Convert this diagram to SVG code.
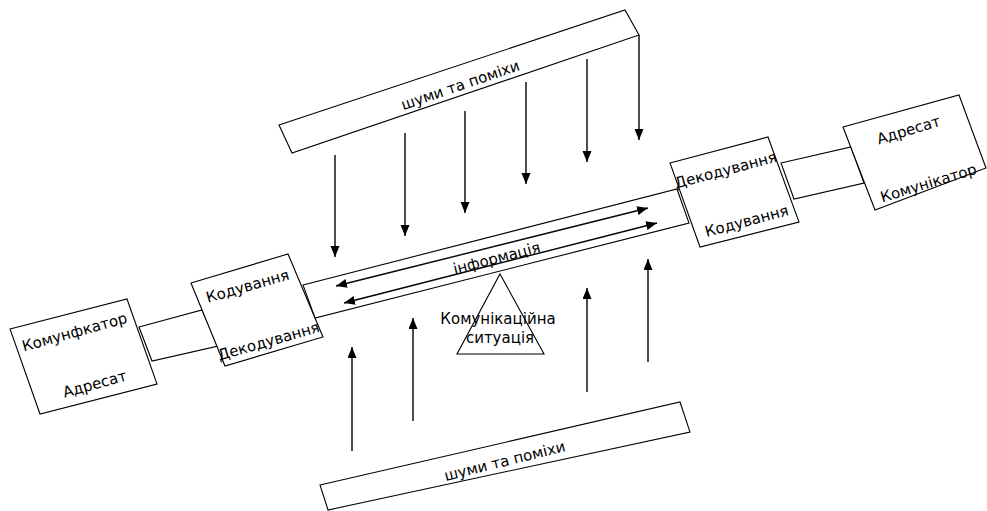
<svg xmlns="http://www.w3.org/2000/svg" width="987" height="511" viewBox="0 0 987 511">
<defs>
<marker id="ah" markerUnits="userSpaceOnUse" markerWidth="12" markerHeight="10" refX="11" refY="4.5" orient="auto-start-reverse">
<path d="M0,0 L11,4.5 L0,9 z" fill="#000"/>
</marker>
<style>
.box{fill:#fff;stroke:#000;stroke-width:1.1}
.ln{fill:none;stroke:#000;stroke-width:1.1}
.ar{fill:none;stroke:#000;stroke-width:1.4;marker-end:url(#ah)}
.dar{fill:none;stroke:#000;stroke-width:1.4;marker-start:url(#ah);marker-end:url(#ah)}
text{font-family:"DejaVu Sans","Noto Sans",sans-serif;font-size:15px;fill:#000;text-anchor:middle}
</style>
</defs>
<rect width="987" height="511" fill="#fff"/>
<g id="connectors">
<polygon class="box" points="139,327 202,310 218,346 152,361"/>
<polygon class="box" points="781,163 851,147 864,183 794,199"/>
</g>
<g id="noise-top">
<polygon class="box" points="279,125 625,10 639,35 292,153"/>
<text transform="rotate(-19 462 90)" x="462" y="90">шуми та поміхи</text>
</g>
<g id="noise-bottom">
<polygon class="box" points="320,485 680,402 690,432 328,510"/>
<text transform="rotate(-14 506 466)" x="506" y="466">шуми та поміхи</text>
</g>
<g id="channel">
<polygon class="box" points="303,285 677,189 689,223 315,318"/>
<text transform="rotate(-14.5 498 263)" x="498" y="263">інформація</text>
</g>
<g id="situation">
<polygon class="box" points="500,274 544,354 457,354" fill="none"/>
<text x="498" y="324">Комунікаційна</text>
<text x="500" y="343">ситуація</text>
</g>
<g id="communicator">
<polygon class="box" points="10,329 127,299 157,384 40,414"/>
<text transform="rotate(-15.5 76 337)" x="76" y="337">Комунфкатор</text>
<text transform="rotate(-15.5 96 389)" x="96" y="389">Адресат</text>
</g>
<g id="coding-left">
<polygon class="box" points="191,283 288,254 323,337 225,366"/>
<text transform="rotate(-16 249 291)" x="249" y="291">Кодування</text>
<text transform="rotate(-16 270 346)" x="270" y="346">Декодування</text>
</g>
<g id="decoding-right">
<polygon class="box" points="670,163 768,137 799,222 700,247"/>
<text transform="rotate(-15 727 175)" x="727" y="175">Декодування</text>
<text transform="rotate(-15 748 226)" x="748" y="226">Кодування</text>
</g>
<g id="addressee">
<polygon class="box" points="843,127 959,95 986,168 875,210"/>
<text transform="rotate(-17 910 135)" x="910" y="135">Адресат</text>
<text transform="rotate(-17 930 188)" x="930" y="188">Комунікатор</text>
</g>
<g id="arrows">
<line class="ar" x1="335" y1="155" x2="335" y2="257"/>
<line class="ar" x1="405" y1="133" x2="405" y2="236"/>
<line class="ar" x1="465" y1="111" x2="465" y2="213"/>
<line class="ar" x1="526" y1="82" x2="526" y2="184"/>
<line class="ar" x1="587" y1="59" x2="587" y2="162"/>
<line class="ar" x1="639" y1="35" x2="639" y2="140"/>
<line class="ar" x1="352" y1="451" x2="352" y2="347"/>
<line class="ar" x1="413" y1="421" x2="413" y2="318"/>
<line class="ar" x1="587" y1="392" x2="587" y2="288"/>
<line class="ar" x1="648" y1="362" x2="648" y2="259"/>
<line class="dar" x1="336" y1="286" x2="648" y2="208"/>
<line class="dar" x1="344" y1="303" x2="657" y2="223"/>
</g>
</svg>
